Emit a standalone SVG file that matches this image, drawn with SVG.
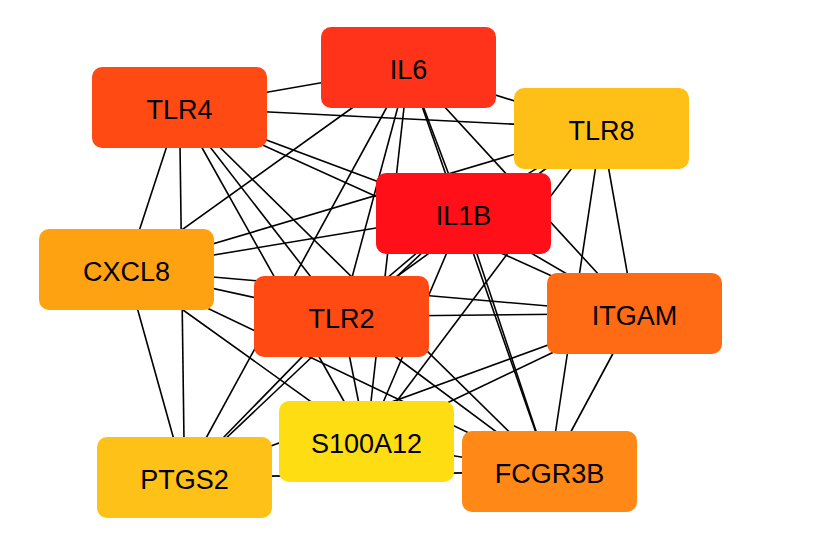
<svg xmlns="http://www.w3.org/2000/svg" width="816" height="550" viewBox="0 0 816 550">
<style>
.e{stroke:#000;stroke-width:1.6;fill:none}
.n{stroke:none}
.t{font-family:"Liberation Sans",Arial,sans-serif;font-size:27px;fill:#000;text-anchor:middle}
</style>
<rect width="816" height="550" fill="#fff"/>
<g id="edges" class="e">
<!-- IL6 (408.5,67.5) -->
<line x1="408.5" y1="67.5" x2="179.5" y2="107.5"/>
<line x1="408.5" y1="67.5" x2="601.5" y2="128.5"/>
<line x1="408.5" y1="67.5" x2="463.5" y2="213.5"/>
<line x1="408.5" y1="67.5" x2="126.5" y2="269.5"/>
<line x1="408.5" y1="67.5" x2="341.5" y2="316.5"/>
<line x1="408.5" y1="67.5" x2="634.5" y2="313.5"/>
<line x1="408.5" y1="67.5" x2="366.5" y2="441.5"/>
<line x1="408.5" y1="67.5" x2="184.5" y2="477.5"/>
<line x1="408.5" y1="67.5" x2="549.5" y2="471.5"/>
<!-- TLR4 (179.5,107.5) -->
<line x1="179.5" y1="107.5" x2="601.5" y2="128.5"/>
<line x1="179.5" y1="107.5" x2="463.5" y2="213.5"/>
<line x1="179.5" y1="107.5" x2="126.5" y2="269.5"/>
<line x1="179.5" y1="107.5" x2="341.5" y2="316.5"/>
<line x1="179.5" y1="107.5" x2="634.5" y2="313.5"/>
<line x1="179.5" y1="107.5" x2="366.5" y2="441.5"/>
<line x1="179.5" y1="107.5" x2="184.5" y2="477.5"/>
<line x1="179.5" y1="107.5" x2="549.5" y2="471.5"/>
<!-- TLR8 (601.5,128.5) -->
<line x1="601.5" y1="128.5" x2="463.5" y2="213.5"/>
<line x1="601.5" y1="128.5" x2="126.5" y2="269.5"/>
<line x1="601.5" y1="128.5" x2="341.5" y2="316.5"/>
<line x1="601.5" y1="128.5" x2="634.5" y2="313.5"/>
<line x1="601.5" y1="128.5" x2="366.5" y2="441.5"/>
<line x1="601.5" y1="128.5" x2="549.5" y2="471.5"/>
<!-- IL1B (463.5,213.5) -->
<line x1="463.5" y1="213.5" x2="126.5" y2="269.5"/>
<line x1="463.5" y1="213.5" x2="341.5" y2="316.5"/>
<line x1="463.5" y1="213.5" x2="634.5" y2="313.5"/>
<line x1="463.5" y1="213.5" x2="366.5" y2="441.5"/>
<line x1="463.5" y1="213.5" x2="184.5" y2="477.5"/>
<line x1="463.5" y1="213.5" x2="549.5" y2="471.5"/>
<!-- CXCL8 (126.5,269.5) -->
<line x1="126.5" y1="269.5" x2="341.5" y2="316.5"/>
<line x1="126.5" y1="269.5" x2="634.5" y2="313.5"/>
<line x1="126.5" y1="269.5" x2="366.5" y2="441.5"/>
<line x1="126.5" y1="269.5" x2="184.5" y2="477.5"/>
<line x1="126.5" y1="269.5" x2="549.5" y2="471.5"/>
<!-- TLR2 (341.5,316.5) -->
<line x1="341.5" y1="316.5" x2="634.5" y2="313.5"/>
<line x1="341.5" y1="316.5" x2="366.5" y2="441.5"/>
<line x1="341.5" y1="316.5" x2="184.5" y2="477.5"/>
<line x1="341.5" y1="316.5" x2="549.5" y2="471.5"/>
<!-- ITGAM (634.5,313.5) -->
<line x1="634.5" y1="313.5" x2="366.5" y2="441.5"/>
<line x1="634.5" y1="313.5" x2="184.5" y2="477.5"/>
<line x1="634.5" y1="313.5" x2="549.5" y2="471.5"/>
<!-- S100A12 / PTGS2 / FCGR3B -->
<line x1="366.5" y1="441.5" x2="549.5" y2="471.5"/>
<line x1="184.5" y1="477.5" x2="549.5" y2="471.5"/>
</g>
<g id="IL6"><rect class="n" x="321" y="27" width="175" height="81" rx="10" fill="#FF3319"/><text class="t" x="408.5" y="78.5">IL6</text></g>
<g id="TLR4"><rect class="n" x="92" y="67" width="175" height="81" rx="10" fill="#FF4A14"/><text class="t" x="179.5" y="118.5">TLR4</text></g>
<g id="TLR8"><rect class="n" x="514" y="88" width="175" height="81" rx="10" fill="#FEC016"/><text class="t" x="601.5" y="139.5">TLR8</text></g>
<g id="IL1B"><rect class="n" x="376" y="173" width="175" height="81" rx="10" fill="#FF0F17"/><text class="t" x="463.5" y="224.5">IL1B</text></g>
<g id="CXCL8"><rect class="n" x="39" y="229" width="175" height="81" rx="10" fill="#FFA211"/><text class="t" x="126.5" y="280.5">CXCL8</text></g>
<g id="TLR2"><rect class="n" x="254" y="276" width="175" height="81" rx="10" fill="#FF4A14"/><text class="t" x="341.5" y="327.5">TLR2</text></g>
<g id="ITGAM"><rect class="n" x="547" y="273" width="175" height="81" rx="10" fill="#FF6A14"/><text class="t" x="634.5" y="324.5">ITGAM</text></g>
<g id="S100A12"><rect class="n" x="279" y="401" width="175" height="81" rx="10" fill="#FEDD12"/><text class="t" x="366.5" y="452.5">S100A12</text></g>
<g id="PTGS2"><rect class="n" x="97" y="437" width="175" height="81" rx="10" fill="#FEC117"/><text class="t" x="184.5" y="488.5">PTGS2</text></g>
<g id="FCGR3B"><rect class="n" x="462" y="431" width="175" height="81" rx="10" fill="#FF8816"/><text class="t" x="549.5" y="482.5">FCGR3B</text></g>
</svg>
